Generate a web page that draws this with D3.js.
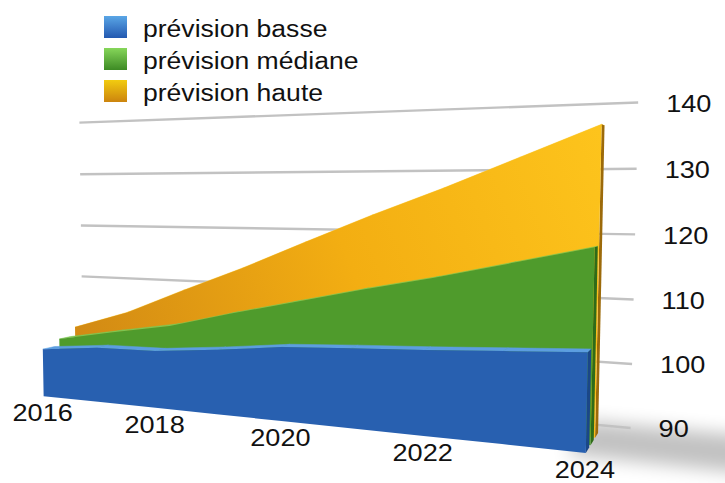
<!DOCTYPE html>
<html><head><meta charset="utf-8">
<script src="https://cdn.jsdelivr.net/npm/d3@7"></script>
<style>body{margin:0;background:#fff}</style></head>
<body><svg id="c" width="725" height="483"></svg>
<script>
const years = [2016,2017,2018,2019,2020,2021,2022,2023,2024];
const seriesNames = ["prévision basse","prévision médiane","prévision haute"];
const basse   = [98.5, 99.5, 99.7, 100.7, 101.9, 102.5, 103.0, 103.6, 104.2];
const mediane = [99.7, 101.6, 103.4, 106.1, 108.6, 111.1, 113.4, 116.0, 118.6];
const haute   = [101.3, 104.7, 109.2, 113.5, 118.2, 122.8, 127.1, 131.7, 136.3];
const valueTicks = [90,100,110,120,130,140];
const yearTicks = [2016,2018,2020,2022,2024];
const seriesValues = [basse, mediane, haute];

// camera (perspective view)
const cam = {th:0.4267, ph:0.0676, D:964.07, f:990.29, ox:293.61, oy:260.86};
const xW = d3.scaleLinear().domain([2016,2024]).range([-282.54,282.54]);
const yW = d3.scaleLinear().domain([90,140]).range([-152.04,147.96]);
const zW = d3.scaleLinear().domain([0,1]).range([-28.30,0]);
function project(year,v,layer){
  const x=xW(year), y=yW(v), z=zW(layer);
  const c=Math.cos(cam.th), s=Math.sin(cam.th), cp=Math.cos(cam.ph), sp=Math.sin(cam.ph);
  const x1=x*c+z*s, z1=z*c-x*s;
  const y2=y*cp+z1*sp, z2=z1*cp-y*sp;
  const d=cam.D+z2;
  return [cam.ox+cam.f*x1/d, cam.oy-cam.f*y2/d];
}

const svg=d3.select("#c");
const defs=svg.append("defs");
const lg=[["lgB","#5aa6e6","#2358b0"],["lgG","#86d65a","#3d8a24"],["lgY","#f2cc10","#cc840e"]];
lg.forEach(([id,a,b])=>{const g=defs.append("linearGradient").attr("id",id).attr("x1",0).attr("y1",0).attr("x2",0).attr("y2",1);
 g.append("stop").attr("offset",0).attr("stop-color",a);g.append("stop").attr("offset",1).attr("stop-color",b);});
const yg=defs.append("linearGradient").attr("id","yFace").attr("gradientUnits","userSpaceOnUse").attr("x1",75).attr("y1",330).attr("x2",600).attr("y2",130);
yg.append("stop").attr("offset",0).attr("stop-color","#d28a14");
yg.append("stop").attr("offset",0.5).attr("stop-color","#f3ae12");
yg.append("stop").attr("offset",1).attr("stop-color","#fdc41c");
const blur=defs.append("filter").attr("id","blur").attr("x","-50%").attr("y","-50%").attr("width","200%").attr("height","200%");
blur.append("feGaussianBlur").attr("stdDeviation",9);

const line=d3.line();
const font="Liberation Sans, Arial, Helvetica, sans-serif";

// floor shadow
const sh=[[2023.8,-0.4],[2027,-0.4],[2027,4.3],[2023.8,4.3]].map(([yr,l])=>project(yr,90,l));
svg.append("path").attr("d",line(sh)+"Z").attr("fill","#000").attr("opacity",0.24).attr("filter","url(#blur)");

// gridlines on the back wall + value labels
const wallLayer=3.8455, wallL=2015.594, wallR=2024.353;
valueTicks.forEach(v=>{
  svg.append("path").attr("d",line([project(wallL,v,wallLayer),project(wallR,v,wallLayer)]))
    .attr("stroke","#c2c2c2").attr("stroke-width",2.4).attr("fill","none");
  const p=project(wallR,v,wallLayer);
  svg.append("text").attr("transform",`translate(${p[0]+28},${p[1]+1}) scale(1.13,1)`)
    .attr("dominant-baseline","central").attr("font-family",font)
    .attr("font-size",24).attr("fill","#111").text(v);
});

// 3D area slabs, back to front
const styles=[
 {front:"#2860b0",top:"#5c9ee0",cap:"#1b4788"},
 {front:"#4f9b2c",top:"#7cc653",cap:"#2f6b19"},
 {front:"url(#yFace)",top:"#fcd04a",cap:"#9c6a0a"}];
const depth=0.7;
[2,1,0].forEach(i=>{
  const vals=seriesValues[i], st=styles[i], zf=i, zb=i+depth;
  const g=svg.append("g");
  for(let j=0;j<years.length-1;j++){
    const q=[project(years[j],vals[j],zf),project(years[j+1],vals[j+1],zf),project(years[j+1],vals[j+1],zb),project(years[j],vals[j],zb)];
    g.append("path").attr("d",line(q)+"Z").attr("fill",st.top).attr("stroke",st.top).attr("stroke-width",0.5);
  }
  const n=years.length-1;
  const cap=[project(years[n],90,zf),project(years[n],vals[n],zf),project(years[n],vals[n],zb),project(years[n],90,zb)];
  g.append("path").attr("d",line(cap)+"Z").attr("fill",st.cap);
  const top=years.map((y,j)=>project(y,vals[j],zf));
  const bot=years.slice().reverse().map(y=>project(y,90,zf));
  g.append("path").attr("d",line(top.concat(bot))+"Z").attr("fill",st.front);
});

// year labels
yearTicks.forEach(y=>{
  const p=project(y,90,0);
  svg.append("text").attr("transform",`translate(${p[0]-1},${p[1]+25}) scale(1.13,1)`)
   .attr("text-anchor","middle").attr("font-family",font)
   .attr("font-size",24).attr("fill","#111").text(y);
});

// legend
seriesNames.forEach((nm,i)=>{
  svg.append("rect").attr("x",104).attr("y",16+32*i).attr("width",23).attr("height",22).attr("fill",`url(#${lg[i][0]})`);
  svg.append("text").attr("transform",`translate(143,${37+32*i}) scale(1.13,1)`)
   .attr("font-family",font).attr("font-size",23.5).attr("fill","#111").text(nm);
});
</script></body></html>
